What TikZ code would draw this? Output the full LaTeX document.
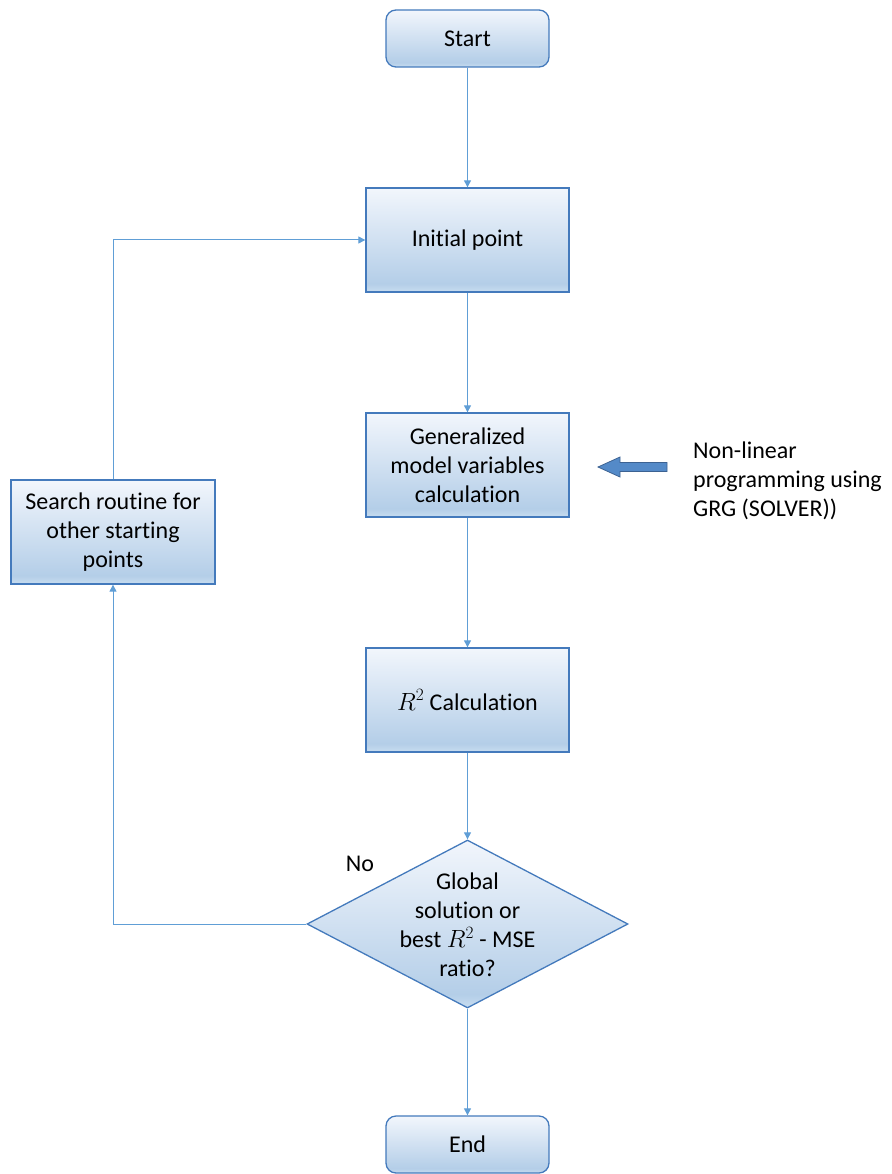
\documentclass[tikz,border=0pt]{standalone}
\usepackage{fontspec}
\setmainfont{Carlito}[Ligatures=NoCommon]
\usetikzlibrary{shapes.geometric,arrows.meta}

\definecolor{edgeblue}{RGB}{68,122,188}
\definecolor{linkblue}{RGB}{96,158,214}
\definecolor{shadetop}{RGB}{242,246,252}
\definecolor{shademid}{RGB}{180,206,232}
\definecolor{shadelow}{RGB}{200,221,240}
\definecolor{arrowfill}{RGB}{84,138,200}
\definecolor{arrowedge}{RGB}{60,98,146}

% soft top-to-bottom fill used by every flowchart shape
\pgfdeclareverticalshading{boxshade}{100bp}{%
  color(0bp)=(shadelow); color(25bp)=(shadelow); color(29bp)=(shademid);
  color(75bp)=(shadetop); color(100bp)=(shadetop)}

% text that does not widen the shape around it
\newcommand{\fixedtext}[1]{\makebox[0pt]{\smash{\raisebox{-9pt}{\begin{tabular}{@{}c@{}}#1\end{tabular}}}}}

\tikzset{
  base/.style={draw=edgeblue, line width=1.3pt, shading=boxshade,
    font=\fontsize{24}{29}\selectfont, align=center, inner sep=2pt},
  terminal/.style={base, rounded corners=10pt, minimum width=163pt, minimum height=57pt},
  process/.style={base, minimum width=203pt, minimum height=104pt},
  decision/.style={base, diamond, aspect=1.911, minimum width=321pt,
    minimum height=168pt, inner sep=0pt},
  link/.style={draw=linkblue, line width=1pt, -{Triangle[length=7pt,width=7pt]}},
  label/.style={font=\fontsize{24}{29}\selectfont, align=left, inner sep=0pt},
}

\begin{document}
\begin{tikzpicture}[x=1pt,y=-1pt]
  \useasboundingbox (0,0) rectangle (891,1174);

  % main column
  \node[terminal] (start) at (467.5,38.5) {Start};
  \node[process]  (init)  at (467.5,240)  {Initial point};
  \node[process]  (gen)   at (467.5,465)  {Generalized\\model variables\\calculation};
  \node[process]  (rsq)   at (467.5,700)  {$R^2$ Calculation};
  \node[decision] (test)  at (467.5,924)
    {\fixedtext{Global\\solution or\\best $R^2$ - MSE\\ratio?}};
  \node[terminal] (stop)  at (467.5,1144.5) {End};

  % side branch
  \node[process, minimum width=204pt] (search) at (113,532)
    {Search routine for\\other starting\\points};

  % annotation with block arrow
  \node[label, anchor=west] (note) at (693,481)
    {Non-linear\\programming using\\GRG (SOLVER))};
  \fill[arrowfill, draw=arrowedge, line width=0.8pt]
    (598,467) -- (620,457) -- (620,462.5) -- (667,462.5) -- (667,471.5)
    -- (620,471.5) -- (620,477) -- cycle;

  \node[label] (no) at (360,864) {No};

  % connectors
  \draw[link] (start) -- (init);
  \draw[link] (init) -- (gen);
  \draw[link] (gen) -- (rsq);
  \draw[link] (rsq) -- (test);
  \draw[link] (test) -- (stop);
  \draw[link] (test.west) -| (search.south);
  \draw[link] (search.north) |- (init.west);
\end{tikzpicture}
\end{document}
